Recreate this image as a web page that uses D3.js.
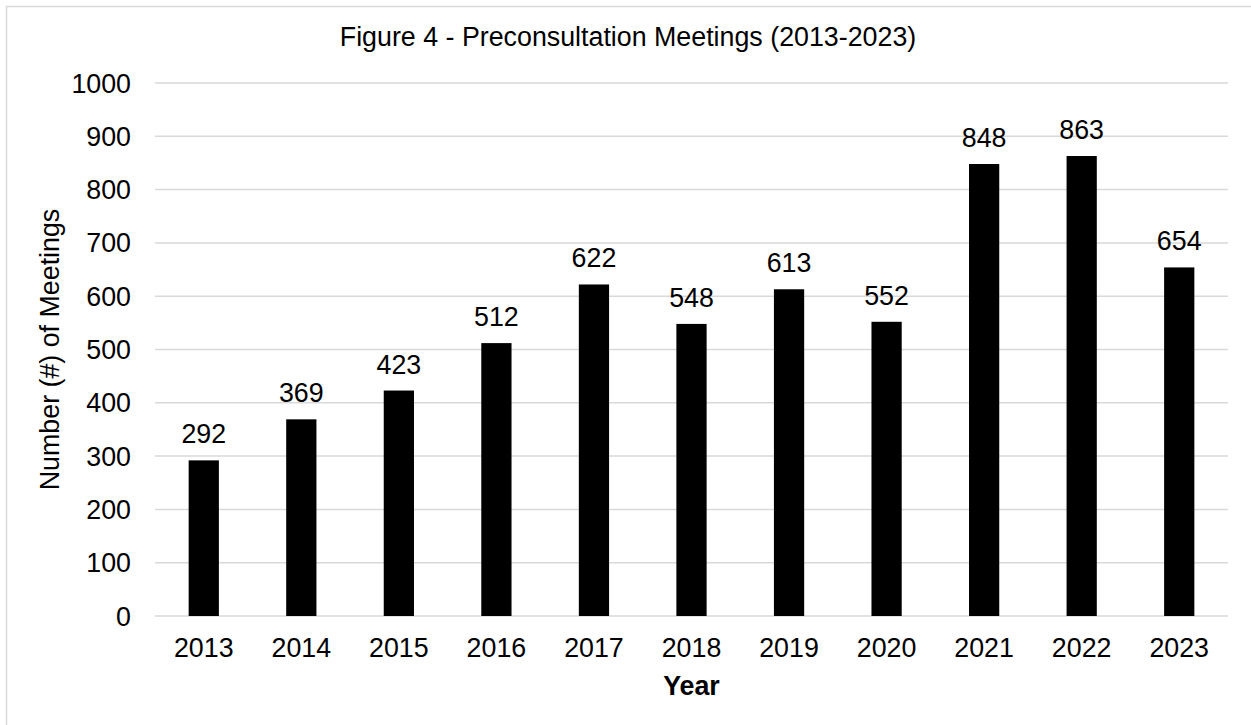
<html>
<head>
<title>d3</title>
<script src="https://d3js.org/d3.v7.min.js"></script>
<style>
  body { margin: 0; background: #fff; }
  text { font-family: "Liberation Sans", Arial, sans-serif; fill: #000; }
</style>
</head>
<body>
<svg class="bar-chart"></svg>

<script>

    var years = ['2013', '2014', '2015', '2016', '2017', '2018', '2019', '2020', '2021', '2022', '2023'];
    var meetings = [292, 369, 423, 512, 622, 548, 613, 552, 848, 863, 654];
    var yTicks = [0, 100, 200, 300, 400, 500, 600, 700, 800, 900, 1000];

    var svgWidth = 1251, svgHeight = 725;
    var plotLeft = 155, plotRight = 1228, plotTop = 83, plotBottom = 616;
    var fontSize = 26.8;

    var svg = d3.select('svg')
        .attr('width', svgWidth)
        .attr('height', svgHeight);

    // outer chart border (runs off right and bottom edges)
    svg.append('rect')
        .attr('x', 6.5)
        .attr('y', 6.5)
        .attr('width', svgWidth + 20)
        .attr('height', svgHeight + 20)
        .attr('fill', 'none')
        .attr('stroke', '#d9d9d9')
        .attr('stroke-width', 1.5);

    var xScale = d3.scaleBand()
        .domain(years)
        .range([plotLeft, plotRight])
        .paddingInner(0.69)
        .paddingOuter(0.345);

    var yScale = d3.scaleLinear()
        .domain([0, 1000])
        .range([plotBottom, plotTop]);

    // gridlines
    svg.selectAll('line.grid')
        .data(yTicks)
        .enter()
        .append('line')
        .attr('class', 'grid')
        .attr('x1', plotLeft)
        .attr('x2', plotRight)
        .attr('y1', function (d) { return yScale(d); })
        .attr('y2', function (d) { return yScale(d); })
        .attr('stroke', '#d9d9d9')
        .attr('stroke-width', 1.5);

    // y tick labels
    svg.selectAll('text.ytick')
        .data(yTicks)
        .enter()
        .append('text')
        .attr('class', 'ytick')
        .text(function (d) { return d; })
        .attr('x', 131)
        .attr('y', function (d) { return yScale(d) + 9.5; })
        .attr('text-anchor', 'end')
        .attr('font-size', fontSize);

    svg.selectAll('rect.bar')
        .data(meetings)
        .enter()
        .append('rect')
        .attr('class', 'bar')
        .attr('x', function (d, i) { return xScale(years[i]); })
        .attr('y', function (d) { return yScale(d); })
        .attr('width', xScale.bandwidth())
        .attr('height', function (d) { return plotBottom - yScale(d); })
        .attr('fill', '#000');

    // value labels
    svg.selectAll('text.val')
        .data(meetings)
        .enter()
        .append('text')
        .attr('class', 'val')
        .text(function (d) { return d; })
        .attr('x', function (d, i) { return xScale(years[i]) + xScale.bandwidth() / 2; })
        .attr('y', function (d) { return yScale(d) - 17; })
        .attr('text-anchor', 'middle')
        .attr('font-size', fontSize);

    // x tick labels
    svg.selectAll('text.xtick')
        .data(years)
        .enter()
        .append('text')
        .attr('class', 'xtick')
        .text(function (d) { return d; })
        .attr('x', function (d) { return xScale(d) + xScale.bandwidth() / 2; })
        .attr('y', 657)
        .attr('text-anchor', 'middle')
        .attr('font-size', fontSize);

    // titles
    svg.append('text')
        .text('Figure 4 - Preconsultation Meetings (2013-2023)')
        .attr('x', 628)
        .attr('y', 46)
        .attr('text-anchor', 'middle')
        .attr('font-size', fontSize);

    svg.append('text')
        .text('Year')
        .attr('x', (plotLeft + plotRight) / 2)
        .attr('y', 695)
        .attr('text-anchor', 'middle')
        .attr('font-weight', 'bold')
        .attr('font-size', fontSize);

    svg.append('text')
        .text('Number (#) of Meetings')
        .attr('transform', 'translate(59,' + ((plotTop + plotBottom) / 2) + ') rotate(-90)')
        .attr('text-anchor', 'middle')
        .attr('font-size', fontSize);

</script>
</body>
</html>
